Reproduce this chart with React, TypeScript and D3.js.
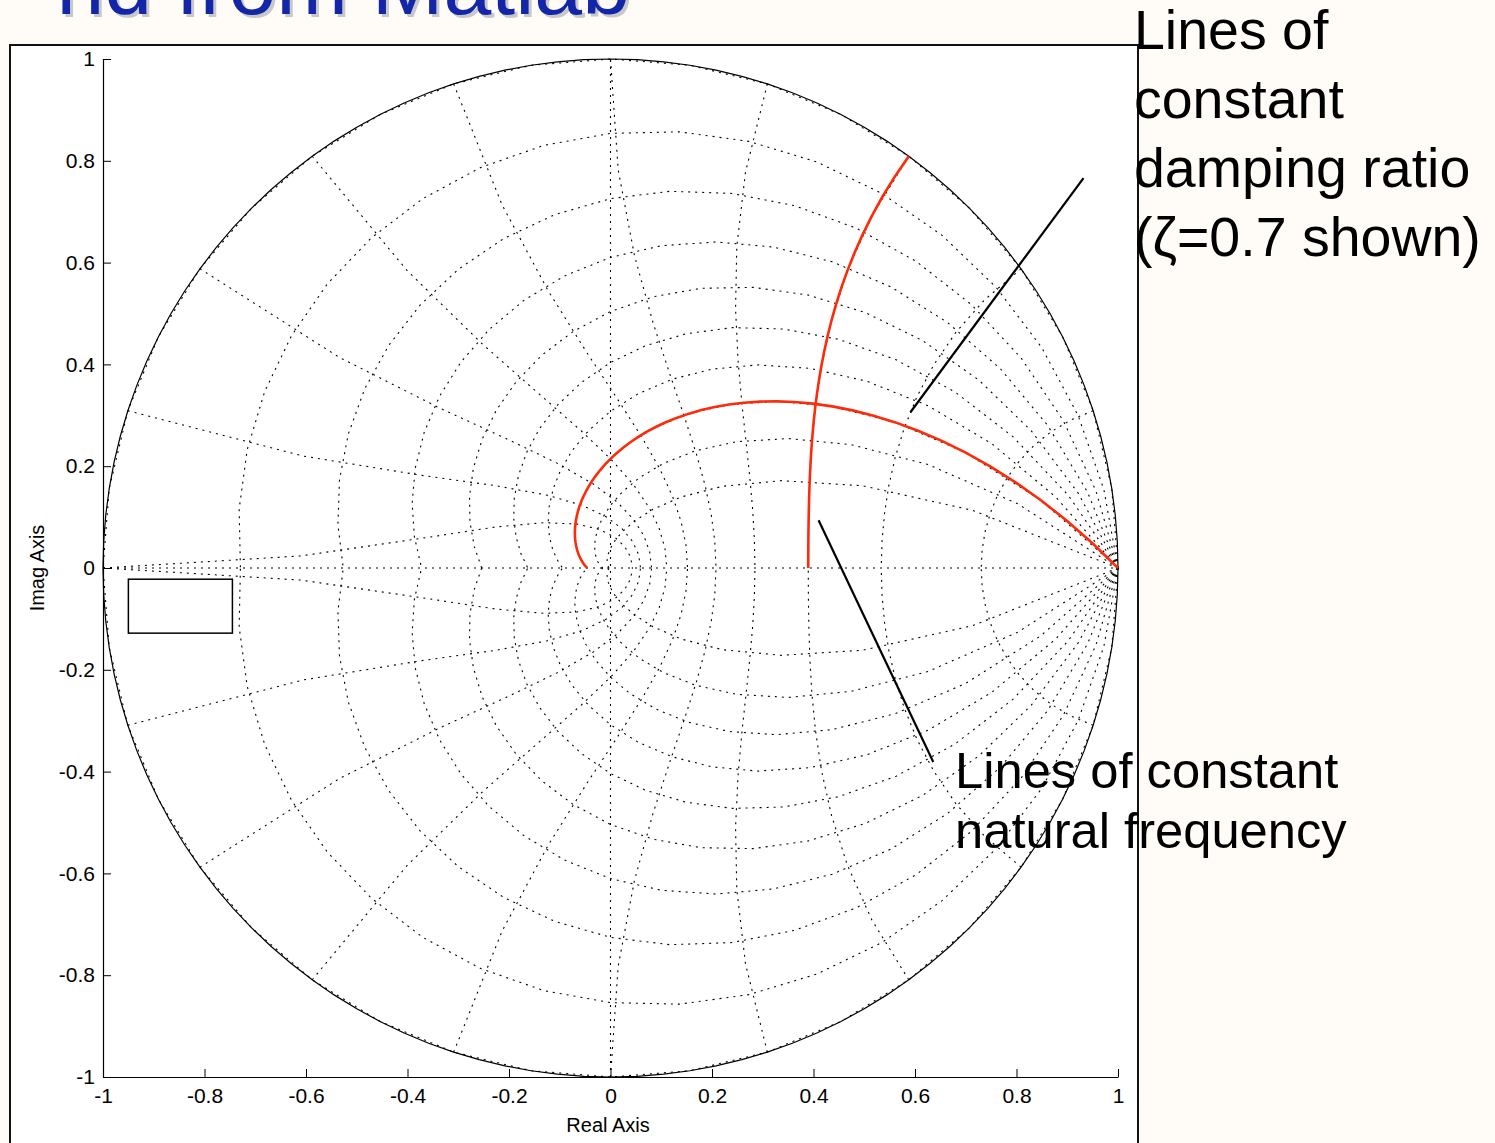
import React, { useEffect, useRef } from "react";
import * as d3 from "d3";

// zgrid parameters (damping ratios and natural frequencies as multiples of pi/T)
const zetaLines = [0, 0.1, 0.2, 0.3, 0.4, 0.5, 0.6, 0.7, 0.8, 0.9];
const wnLines = [0.1, 0.2, 0.3, 0.4, 0.5, 0.6, 0.7, 0.8, 0.9, 1.0];
const axisTicks = [-1, -0.8, -0.6, -0.4, -0.2, 0, 0.2, 0.4, 0.6, 0.8, 1];

// highlighted curves (red)
const shownZeta = 0.7;
const shownWn = 0.3;

// empty legend box, in data units: [x0, y0, x1, y1]
const legendBox = [-0.95, -0.022, -0.745, -0.128];

const titleText = "nd from Matlab";
const dampingNote = ["Lines of", "constant", "damping ratio", "(ζ=0.7 shown)"];
const freqNote = ["Lines of constant", "natural frequency"];
const dampingPointer = [[0.932, 0.766], [0.591, 0.306]];
const freqPointer = [[0.41, 0.094], [0.636, -0.381]];

const W = 1495;
const H = 1143;
const FONT = "'Liberation Sans', Arial, Helvetica, sans-serif";

const dampCurve = (zeta: number, steps = 20) => {
    const m = zeta / Math.sqrt(1 - zeta * zeta);
    return d3.range(steps + 1).map(i => {
        const t = (Math.PI * i) / steps;
        const r = Math.exp(-m * t);
        return [r * Math.cos(t), r * Math.sin(t)];
    });
};

const wnCurve = (wn: number, steps = 10) => {
    const a = wn * Math.PI;
    return d3.range(steps + 1).map(i => {
        const phi = Math.PI / 2 + (Math.PI / 2) * (i / steps);
        const r = Math.exp(a * Math.cos(phi));
        const th = a * Math.sin(phi);
        return [r * Math.cos(th), r * Math.sin(th)];
    });
};

const mirror = (pts: number[][]) => pts.map(p => [p[0], -p[1]]);

const App = () => {
    const ref = useRef<SVGSVGElement | null>(null);

    useEffect(() => {
        const svg = d3.select(ref.current);
        svg.selectAll("*").remove();

        const x = d3.scaleLinear().domain([-1, 1]).range([103, 1118]);
        const y = d3.scaleLinear().domain([-1, 1]).range([1077, 59]);
        const line = d3.line<number[]>().x(d => x(d[0])).y(d => y(d[1]));

        // page background
        svg.append("rect").attr("width", W).attr("height", H).attr("fill", "#fffcf8");

        // slide title (cut off at the top, as on the slide)
        const title = svg.append("g").attr("font-family", FONT).attr("font-size", 86).attr("text-anchor", "end");
        title.append("text").attr("x", 633).attr("y", 17).attr("fill", "#c8c8cc").text(titleText);
        title.append("text").attr("x", 630).attr("y", 14).attr("fill", "#1426a8").text(titleText);

        // figure frame
        svg.append("rect")
            .attr("x", 10).attr("y", 45).attr("width", 1128).attr("height", 1110)
            .attr("fill", "#ffffff").attr("stroke", "#111").attr("stroke-width", 2);

        // dotted grid
        const grid = svg.append("g")
            .attr("fill", "none").attr("stroke", "#000").attr("stroke-width", 1.1)
            .attr("stroke-dasharray", "2,5");

        grid.append("path").attr("d", line([[-1, 0], [1, 0]]));
        grid.append("path").attr("d", line([[0, -1], [0, 1]]));

        zetaLines.forEach(z => {
            const pts = dampCurve(z);
            grid.append("path").attr("d", line(pts));
            grid.append("path").attr("d", line(mirror(pts)));
        });
        wnLines.forEach(w => {
            const pts = wnCurve(w);
            grid.append("path").attr("d", line(pts));
            grid.append("path").attr("d", line(mirror(pts)));
        });

        // unit circle
        const circle = d3.range(121).map(i => {
            const t = (2 * Math.PI * i) / 120;
            return [Math.cos(t), Math.sin(t)];
        });
        svg.append("path").attr("d", line(circle))
            .attr("fill", "none").attr("stroke", "#000").attr("stroke-width", 1.2);

        // highlighted curves
        const red = svg.append("g").attr("fill", "none").attr("stroke", "#fd2b0a")
            .attr("stroke-width", 2.6).attr("stroke-linejoin", "round");
        red.append("path").attr("d", line(dampCurve(shownZeta, 60)));
        red.append("path").attr("d", line(wnCurve(shownWn, 30)));

        // empty legend box
        svg.append("rect")
            .attr("x", x(legendBox[0])).attr("y", y(legendBox[1]))
            .attr("width", x(legendBox[2]) - x(legendBox[0]))
            .attr("height", y(legendBox[3]) - y(legendBox[1]))
            .attr("fill", "#fff").attr("stroke", "#000").attr("stroke-width", 1.5);

        // axes
        const fmt = (d: d3.NumberValue) => String(+(+d).toFixed(1));
        const xAxis = svg.append("g")
            .attr("transform", `translate(0,${y(-1)})`)
            .call(d3.axisBottom(x).tickValues(axisTicks).tickFormat(fmt)
                .tickSizeInner(-8).tickSizeOuter(0).tickPadding(11));
        const yAxis = svg.append("g")
            .attr("transform", `translate(${x(-1)},0)`)
            .call(d3.axisLeft(y).tickValues(axisTicks).tickFormat(fmt)
                .tickSizeInner(-8).tickSizeOuter(0).tickPadding(8));
        [xAxis, yAxis].forEach(a => {
            a.selectAll("text").attr("font-family", FONT).attr("font-size", 21).attr("fill", "#000");
            a.selectAll("line").attr("stroke", "#000");
            a.select(".domain").attr("stroke", "#000").attr("stroke-width", 1.2);
        });

        svg.append("text")
            .attr("x", 608).attr("y", 1132).attr("text-anchor", "middle")
            .attr("font-family", FONT).attr("font-size", 20).text("Real Axis");
        svg.append("text")
            .attr("transform", `translate(44,${y(0)}) rotate(-90)`)
            .attr("text-anchor", "middle")
            .attr("font-family", FONT).attr("font-size", 20).text("Imag Axis");

        // annotations
        const pointers = svg.append("g").attr("stroke", "#000").attr("stroke-width", 2.2);
        [dampingPointer, freqPointer].forEach(p => {
            pointers.append("line")
                .attr("x1", x(p[0][0])).attr("y1", y(p[0][1]))
                .attr("x2", x(p[1][0])).attr("y2", y(p[1][1]));
        });

        const note1 = svg.append("text").attr("font-family", FONT).attr("font-size", 55.5).attr("fill", "#000");
        dampingNote.forEach((t, i) => {
            note1.append("tspan").attr("x", 1134).attr("y", 49 + i * 69).text(t);
        });
        const note2 = svg.append("text").attr("font-family", FONT).attr("font-size", 50.7).attr("fill", "#000");
        freqNote.forEach((t, i) => {
            note2.append("tspan").attr("x", 955).attr("y", 788 + i * 60).text(t);
        });
    }, []);

    return (
        <svg ref={ref} width={W} height={H}
            style={{ position: "absolute", left: 0, top: 0, display: "block" }} />
    );
};

export default App;
